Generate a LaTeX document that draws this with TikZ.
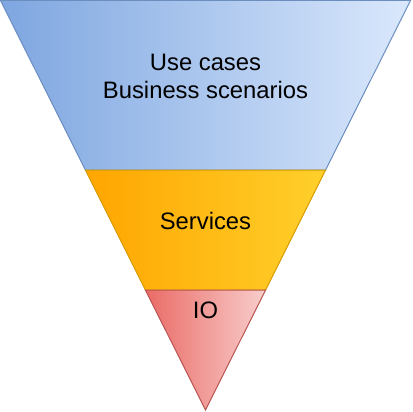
\documentclass[tikz,border=0pt]{standalone}
\usepackage{fontspec}
\setmainfont{Liberation Sans}
\definecolor{bluedark}{HTML}{7EA6E0}
\definecolor{bluelight}{HTML}{DAE8FC}
\definecolor{blueline}{HTML}{6C8EBF}
\definecolor{orangedark}{HTML}{FFA500}
\definecolor{orangelight}{HTML}{FFD02B}
\definecolor{orangeline}{HTML}{D79B00}
\definecolor{reddark}{HTML}{EA6B66}
\definecolor{redlight}{HTML}{F8CECC}
\definecolor{redline}{HTML}{B85450}
\tikzset{
  band/.style={line width=1pt, line join=miter},
  label/.style={font=\fontsize{23.8}{28}\selectfont, align=center, inner sep=0pt}
}
\begin{document}
\begin{tikzpicture}[x=1pt, y=-1pt]
    \useasboundingbox (0,0) rectangle (412,412);
    \coordinate (TL) at (0.5,0.5);
    \coordinate (TR) at (410.5,0.5);
    \coordinate (BL) at (85.4,170);
    \coordinate (BR) at (325.6,170);
    \coordinate (SL) at (145.4,290);
    \coordinate (SR) at (265.6,290);
    \coordinate (AP) at (205.5,410);
    \draw[band, draw=blueline, left color=bluedark, right color=bluelight]
    (TL) -- (TR) -- (BR) -- (BL) -- cycle;
    \draw[band, draw=orangeline, left color=orangedark, right color=orangelight]
    (BL) -- (BR) -- (SR) -- (SL) -- cycle;
    \draw[band, draw=redline, left color=reddark, right color=redlight]
    (SL) -- (SR) -- (AP) -- cycle;
    \node[label] (usecases) at (205.5,76) {Use cases\\Business scenarios};
    \node[label] (services) at (205.5,220.5) {Services};
    \node[label] (io) at (205.5,310.5) {IO};
\end{tikzpicture}
\end{document}
